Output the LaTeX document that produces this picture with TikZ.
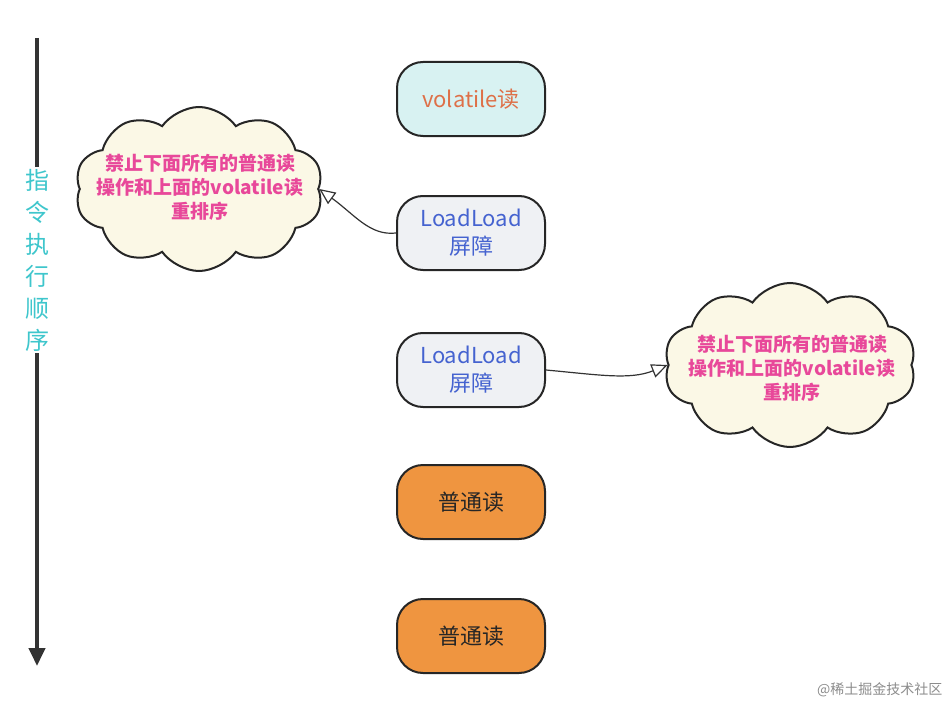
\documentclass[tikz,border=0pt]{standalone}
\usepackage{fontspec}
\setmainfont{Noto Sans CJK SC}
\usetikzlibrary{shapes.symbols,arrows.meta}
\definecolor{cyanbg}{HTML}{D8F2F2}
\definecolor{graybg}{HTML}{EFF1F4}
\definecolor{orgbg}{HTML}{EF9540}
\definecolor{cloudbg}{HTML}{FBF8E6}
\definecolor{pinktx}{HTML}{E8489A}
\definecolor{bluetx}{HTML}{4563D0}
\definecolor{redtx}{HTML}{DE7048}
\definecolor{seqtx}{HTML}{3EC6CC}
\begin{document}
\begin{tikzpicture}[x=1pt,y=-1pt,
  box/.style={draw=black!85,line width=2pt,rounded corners=26pt,minimum width=148pt,minimum height=74pt,align=center,font=\fontsize{22}{28}\selectfont},
  cl/.style={cloud,cloud puffs=10,cloud puff arc=110,draw=black!85,line width=2pt,fill=cloudbg,inner sep=0pt},
  cltext/.style={text=pinktx,font=\bfseries\fontsize{19}{24}\selectfont,align=center,inner sep=0pt},
  conn/.style={draw=black!80,line width=1.2pt,-{Triangle[open,length=16pt,width=14pt]}}]
\useasboundingbox (0,0) rectangle (951,709);
\coordinate (top) at (37,38);
\coordinate (bot) at (37,666);
\draw[line width=4pt,black!80,-{Triangle[length=18pt,width=16pt]}] (top) -- (bot);
\node[fill=white,text=seqtx,align=center,font=\fontsize{24}{32}\selectfont,inner sep=2pt] (seq) at (37,260) {指\\令\\执\\行\\顺\\序};
\node[box,fill=cyanbg,text=redtx] (v) at (471,99) {volatile读};
\node[box,fill=graybg,text=bluetx] (l1) at (471,233) {LoadLoad\\屏障};
\node[box,fill=graybg,text=bluetx] (l2) at (471,370) {LoadLoad\\屏障};
\node[box,fill=orgbg,text=black!85] (p1) at (471,502) {普通读};
\node[box,fill=orgbg,text=black!85] (p2) at (471,636) {普通读};
\node[cl,minimum width=248pt,minimum height=164pt] (c1) at (199,189) {};
\node[cltext] (t1) at (200,187) {禁止下面所有的普通读\\操作和上面的volatile读\\重排序};
\node[cl,minimum width=252pt,minimum height=164pt] (c2) at (790,365) {};
\node[cltext] (t2) at (792,368) {禁止下面所有的普通读\\操作和上面的volatile读\\重排序};
\draw[conn] (l1.west) .. controls (370,236) and (355,215) .. (c1.east);
\draw[conn] (l2.east) .. controls (600,375) and (630,380) .. (c2.west);
\node[text=black!45,font=\fontsize{14}{16}\selectfont,anchor=east] (wm) at (946,690) {@稀土掘金技术社区};
\end{tikzpicture}
\end{document}
